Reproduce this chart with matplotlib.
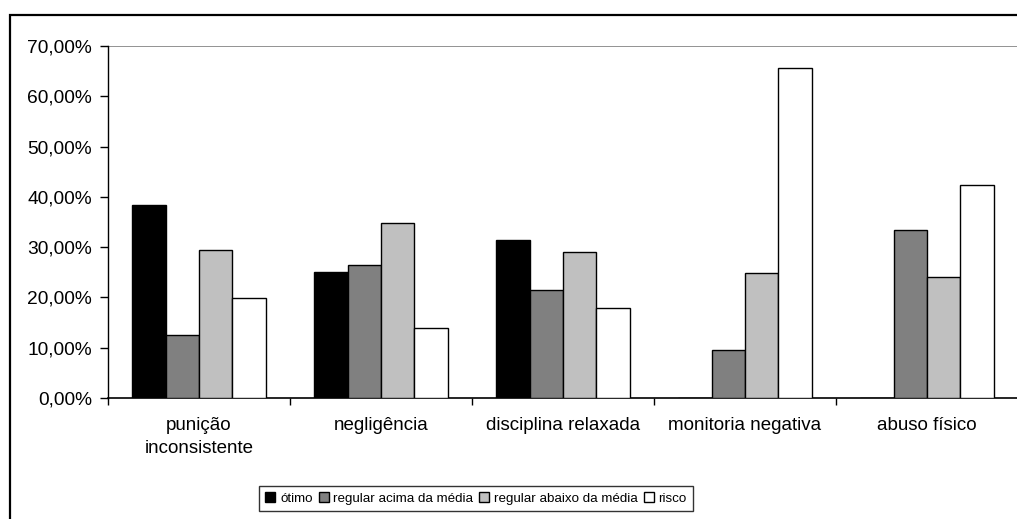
import matplotlib
matplotlib.use("Agg")
import matplotlib.pyplot as plt
from matplotlib.patches import Rectangle
from matplotlib.ticker import FuncFormatter, FixedLocator
import numpy as np

plt.rcParams['font.family'] = ['Liberation Sans', 'DejaVu Sans']

categories = ["punição\ninconsistente", "negligência", "disciplina relaxada",
              "monitoria negativa", "abuso físico"]
series_names = ["ótimo", "regular acima da média", "regular abaixo da média", "risco"]
otimo = [38.3, 25.0, 31.5, 0.0, 0.0]
acima_media = [12.5, 26.4, 21.4, 9.5, 33.5]
abaixo_media = [29.4, 34.9, 29.1, 24.8, 24.0]
risco = [19.9, 13.9, 17.8, 65.7, 42.4]
y_ticks = [0, 10, 20, 30, 40, 50, 60, 70]

series = [otimo, acima_media, abaixo_media, risco]
colors = ["#000000", "#808080", "#C0C0C0", "#FFFFFF"]

W, H = 1017, 519
fig = plt.figure(figsize=(W / 100, H / 100), dpi=100)
fig.patch.set_facecolor("white")

# outer chart border (runs off the right and bottom edges)
fig.patches.append(Rectangle((10 / W, -0.1), 1.2, 1 - 15 / H + 0.1,
                             transform=fig.transFigure, fill=False,
                             edgecolor="black", linewidth=1.6, zorder=0))

left, right, top, bottom = 108, 1018, 46, 398
ax = fig.add_axes([left / W, 1 - bottom / H, (right - left) / W, (bottom - top) / H])

x = np.arange(len(categories))
bw = 0.184
for i, (vals, col, name) in enumerate(zip(series, colors, series_names)):
    ax.bar(x + (i - 1.5) * bw, vals, width=bw, color=col, edgecolor="black",
           linewidth=1.0, label=name, zorder=3)

ax.set_xlim(-0.5, len(categories) - 0.5)
ax.set_ylim(0, 70)
ax.axhline(70, color="#808080", linewidth=1.2, zorder=1)

for s in ["top", "right"]:
    ax.spines[s].set_visible(False)
ax.spines["left"].set_color("black")
ax.spines["bottom"].set_color("black")
ax.spines["left"].set_linewidth(1.0)
ax.spines["bottom"].set_linewidth(1.2)

ax.set_yticks(y_ticks)
ax.yaxis.set_major_formatter(FuncFormatter(lambda v, p: f"{v:.2f}".replace(".", ",") + "%"))
ax.tick_params(axis="y", direction="out", length=5.5, width=1, pad=6, labelsize=13.8)

ax.set_xticks(x)
ax.set_xticklabels(categories, linespacing=1.45)
ax.tick_params(axis="x", which="major", length=0, pad=14, labelsize=13.5)
ax.xaxis.set_minor_locator(FixedLocator(np.arange(-0.5, len(categories), 1.0)))
ax.tick_params(axis="x", which="minor", direction="out", length=5, width=1)

leg = fig.legend(loc="center", bbox_to_anchor=(476 / W, 1 - 498.5 / H), ncol=4,
                 fontsize=9.6, frameon=True, fancybox=False, edgecolor="black",
                 handlelength=0.75, handleheight=0.75, handletextpad=0.35,
                 columnspacing=0.45, borderpad=0.45, borderaxespad=0)
leg.get_frame().set_linewidth(1.0)

fig.savefig("out.png", dpi=100, facecolor="white")
